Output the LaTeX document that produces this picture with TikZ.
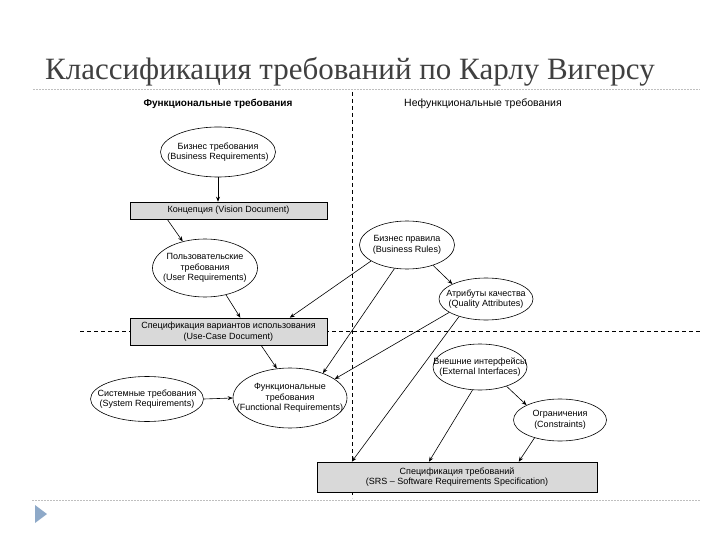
\documentclass[tikz,border=0pt]{standalone}
\usepackage{fontspec}
\setmainfont{Liberation Serif}
\setsansfont{Liberation Sans}
\usetikzlibrary{arrows.meta,calc,shapes.geometric}
\definecolor{bullet}{HTML}{8EA9C8}

\begin{document}
\begin{tikzpicture}[
  x=1pt, y=-1pt,
  req/.style={ellipse, draw, line width=0.6pt, inner xsep=-16pt, inner ysep=0pt, align=center,
              font=\sffamily\fontsize{9}{10.5}\selectfont},
  doc/.style={rectangle, draw, line width=0.6pt, fill=black!15, inner sep=0pt,
              minimum width=197pt, align=center, font=\sffamily\fontsize{9}{10.5}\selectfont},
  head/.style={font=\sffamily\fontsize{10.5}{12}\selectfont},
  arrow/.style={-{Stealth[length=5pt, width=4pt]}, line width=0.6pt},
  divider/.style={line width=0.6pt, dash pattern=on 4pt off 3pt},
  titlerule/.style={gray!50, thin, dash pattern=on 2pt off 1pt}
]
\useasboundingbox (0,0) rectangle (720,540);

% Slide title
\node[anchor=base west, inner sep=0pt, text=black!75,
      font=\fontsize{31}{31}\selectfont] (title) at (45,80)
  {Классификация требований по Карлу Вигерсу};
\draw[titlerule] (33,89) -- (700,89);
\draw[titlerule] (32,500) -- (700,500);
\fill[bullet] (35,505) -- (47,514) -- (35,523) -- cycle;

% Dividers
\draw[divider] (352,92) -- (352,498);
\draw[divider] (80,331) -- (700,331);

% Column headings
\node[head, font=\sffamily\bfseries\fontsize{10}{12}\selectfont] (fhead) at (218,104) {Функциональные требования};
\node[head] (nfhead) at (483,104) {Нефункциональные требования};

% Functional side
\node[req, minimum width=115pt, minimum height=50pt] (busreq) at (218,152)
  {Бизнес требования\\(Business Requirements)};
\node[doc, minimum height=17pt] (vision) at (228.5,210.5)
  {Концепция (Vision Document)};
\node[req, minimum width=105pt, minimum height=58pt] (userreq) at (205,268)
  {Пользовательские\\требования\\(User Requirements)};
\node[doc, minimum height=27pt] (usecase) at (228.5,331.5)
  {Спецификация вариантов использования\\(Use-Case Document)};
\node[req, minimum width=113pt, minimum height=45pt] (sysreq) at (147,399)
  {Системные требования\\(System Requirements)};
\node[req, minimum width=114pt, minimum height=60pt] (funcreq) at (290,398)
  {Функциональные\\требования\\(Functional Requirements)};

% Non-functional side
\node[req, minimum width=95pt, minimum height=48pt] (rules) at (407,245)
  {Бизнес правила\\(Business Rules)};
\node[req, minimum width=94pt, minimum height=42pt] (quality) at (486,299)
  {Атрибуты качества\\(Quality Attributes)};
\node[req, minimum width=94pt, minimum height=46pt] (extif) at (480,367)
  {Внешние интерфейсы\\(External Interfaces)};
\node[req, minimum width=93pt, minimum height=42pt] (constr) at (560,420)
  {Ограничения\\(Constraints)};

% Specification
\node[doc, minimum width=280pt, minimum height=30pt] (srs) at (457,477)
  {Спецификация требований\\(SRS – Software Requirements Specification)};

% Connectors
\draw[arrow] (busreq.south) -- (busreq.south |- vision.north);
\draw[arrow] ($(vision.south west)!0.19!(vision.south east)$) -- (userreq.130);
\draw[arrow] (userreq.-52) -- ($(usecase.north west)!0.56!(usecase.north east)$);
\draw[arrow] (rules.204) -- ($(usecase.north west)!0.81!(usecase.north east)$);
\draw[arrow] (rules.-38) -- (quality.156);
\draw[arrow] (rules.242) -- (funcreq.37);
\draw[arrow] (quality.200) -- (funcreq.23);
\draw[arrow] (quality.213) -- ($(srs.north west)!0.125!(srs.north east)$);
\draw[arrow] ($(usecase.south west)!0.665!(usecase.south east)$) -- (funcreq.114);
\draw[arrow] (sysreq.east) -- (funcreq.west);
\draw[arrow] (extif.-36) -- (constr.156);
\draw[arrow] (extif.-108) -- ($(srs.north west)!0.40!(srs.north east)$);
\draw[arrow] (constr.215) -- ($(srs.north west)!0.72!(srs.north east)$);
\end{tikzpicture}
\end{document}
